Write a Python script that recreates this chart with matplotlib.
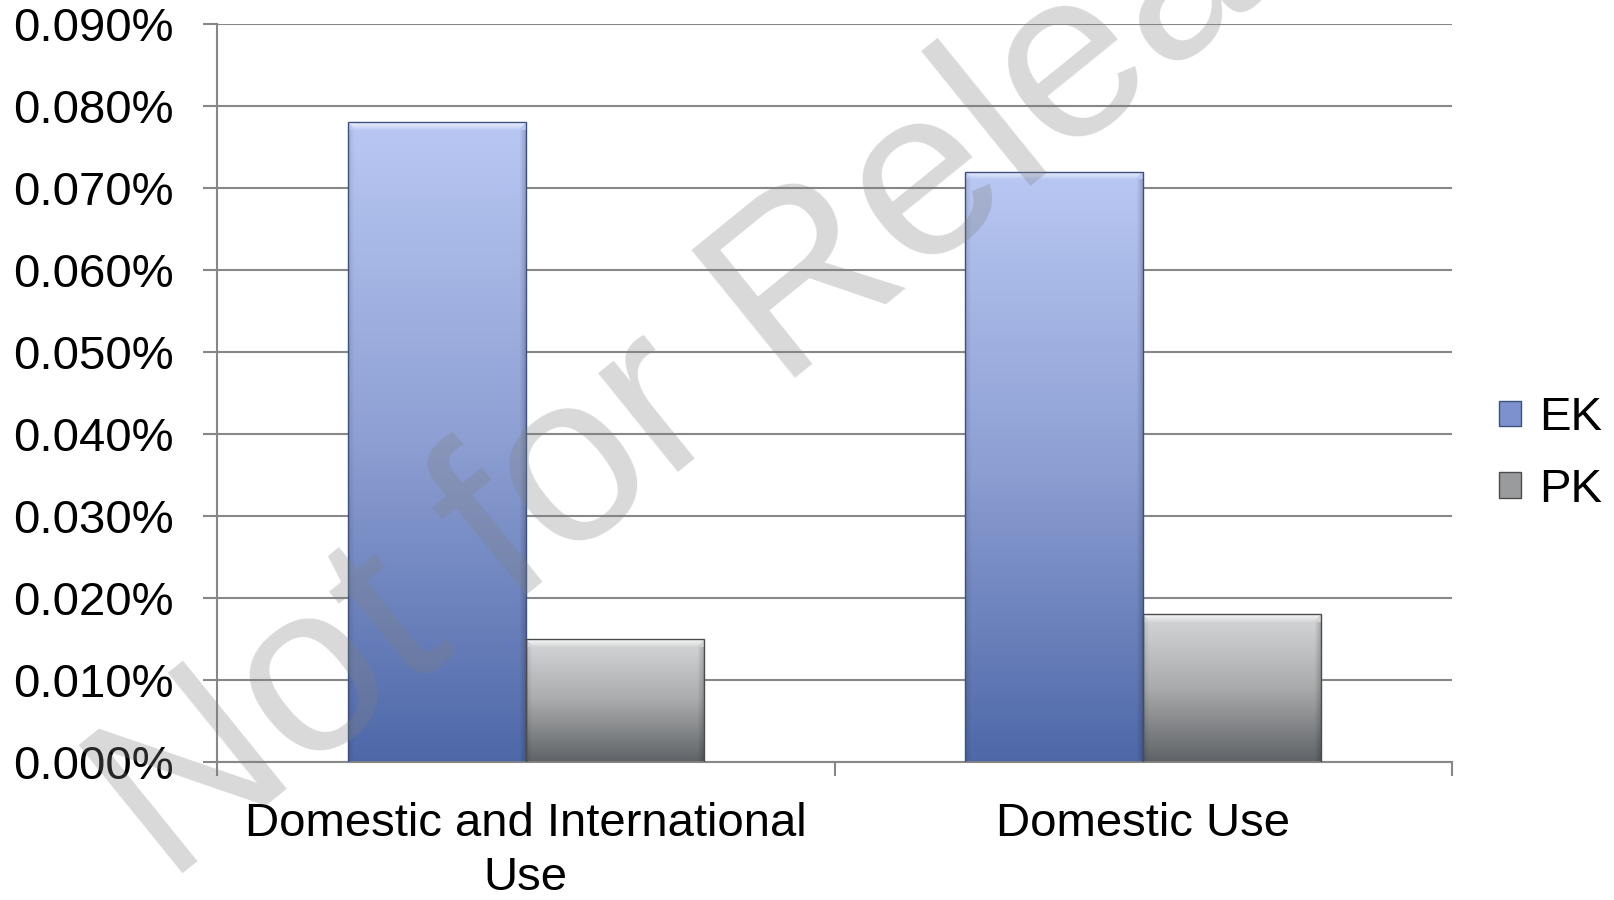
import numpy as np
import matplotlib
matplotlib.use("Agg")
import matplotlib.pyplot as plt
from matplotlib.colors import LinearSegmentedColormap
from matplotlib.patches import Patch

plt.rcParams['font.family'] = ['Liberation Sans', 'DejaVu Sans']

# data (values in percent)
categories = ['Domestic and International\nUse', 'Domestic Use']
series_names = ['EK', 'PK']
ek_values = [0.078, 0.072]
pk_values = [0.015, 0.018]
y_ticks = [0.0, 0.01, 0.02, 0.03, 0.04, 0.05, 0.06, 0.07, 0.08, 0.09]

# gradient stops, bottom -> top
ek_stops = ['#4e68a8', '#8d9fd3', '#b9c8f3']
pk_stops = ['#5f6367', '#a9aaab', '#d6d7d8']

grid_col = '#878787'

fig = plt.figure(figsize=(16.14, 9), dpi=100)
ax = fig.add_axes([217 / 1614, 1 - 762 / 900, (1452 - 217) / 1614, (762 - 24) / 900])

x = np.arange(len(categories))
w = 0.288
bars_ek = ax.bar(x - w / 2, ek_values, w, facecolor='none', edgecolor='#3d4f7c', linewidth=1.0, zorder=3)
bars_pk = ax.bar(x + w / 2, pk_values, w, facecolor='none', edgecolor='#4a4c4f', linewidth=1.0, zorder=3)

ax.set_xlim(-0.5, len(categories) - 0.5)
ax.set_ylim(0, 0.09)


def fill_gradient(bar, stops):
    cmap = LinearSegmentedColormap.from_list('g', stops)
    x0, y0 = bar.get_x(), bar.get_y()
    bw, bh = bar.get_width(), bar.get_height()
    # size of the bar in pixels
    p0 = ax.transData.transform((x0, y0))
    p1 = ax.transData.transform((x0 + bw, y0 + bh))
    nx = max(int(abs(p1[0] - p0[0])), 2)
    ny = max(int(abs(p1[1] - p0[1])), 2)
    frac = np.linspace(1, 0, ny)
    img = cmap(frac)[:, :3]
    img = np.repeat(img[:, None, :], nx, axis=1)
    # bevel: light top strip, darker sides
    k = 8
    for i in range(k):
        a = 0.75 * (1 - i / k)
        lo, hi = i, nx - i
        img[i, lo:hi] = img[i, lo:hi] * (1 - a) + a
    for j in range(6):
        d = 0.18 * (1 - j / 6)
        img[k:, nx - 1 - j] *= (1 - d)
        img[k:, j] *= (1 - d * 0.6)
    im = ax.imshow(img, extent=[x0, x0 + bw, y0, y0 + bh], aspect='auto',
                   origin='upper', zorder=2, interpolation='bilinear')
    im.set_clip_path(bar)


for b in bars_ek:
    fill_gradient(b, ek_stops)
for b in bars_pk:
    fill_gradient(b, pk_stops)

ax.set_xlim(-0.5, len(categories) - 0.5)
ax.set_ylim(0, 0.09)

ax.set_yticks(y_ticks)
ax.set_yticklabels(['{:.3f}%'.format(v) for v in y_ticks])
ax.yaxis.grid(True, color=grid_col, linewidth=1.5)
ax.set_axisbelow(True)

ax.set_xticks(x)
ax.set_xticklabels(categories)
ax.set_xticks(np.arange(-0.5, len(categories), 1.0), minor=True)
ax.tick_params(axis='x', which='major', length=0, pad=29, labelsize=34)
ax.tick_params(axis='x', which='minor', length=10, width=1.5, color=grid_col, direction='out')
ax.tick_params(axis='y', length=10, width=1.5, color=grid_col, pad=21, labelsize=34)
for lbl in ax.get_xticklabels():
    lbl.set_linespacing(1.28)

for s in ['top', 'right']:
    ax.spines[s].set_visible(False)
for s in ['left', 'bottom']:
    ax.spines[s].set_color(grid_col)
    ax.spines[s].set_linewidth(1.5)

handles = [Patch(facecolor='#7d91cf', edgecolor='#3d4f7c'),
           Patch(facecolor='#9a9b9c', edgecolor='#4a4c4f')]
fig.legend(handles, series_names, loc='center left', bbox_to_anchor=(1499 / 1614, 1 - 454 / 900),
           frameon=False, fontsize=34, handlelength=0.46, handleheight=0.46,
           handletextpad=0.38, labelspacing=0.58, borderpad=0, borderaxespad=0)

# watermark
fig.text(817 / 1614, 1 - 360 / 900, 'Not for Release', fontsize=173, rotation=39,
         rotation_mode='anchor', ha='center', va='baseline', color='#808080', alpha=0.3, zorder=10)

fig.savefig('out.png', dpi=100)
